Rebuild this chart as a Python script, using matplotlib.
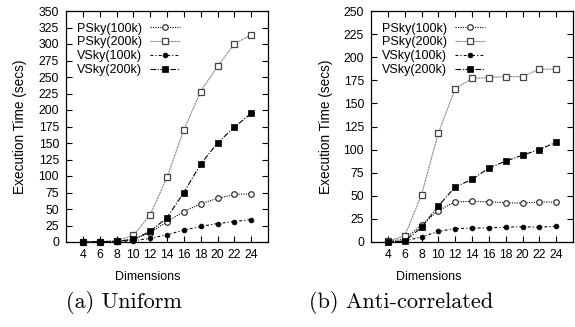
import matplotlib
matplotlib.use("Agg")
import matplotlib.pyplot as plt

dims = [4, 6, 8, 10, 12, 14, 16, 18, 20, 22, 24]
series_names = ["PSky(100k)", "PSky(200k)", "VSky(100k)", "VSky(200k)"]

# (a) Uniform
uni_psky100 = [0.3, 0.5, 1, 4, 14, 31, 46, 58, 66, 72, 73]
uni_psky200 = [0.3, 0.5, 2, 10, 41, 98, 170, 228, 266, 300, 314]
uni_vsky100 = [0.2, 0.3, 0.5, 2, 5.5, 11, 18, 23.5, 28, 31, 34]
uni_vsky200 = [0.3, 0.5, 1, 4, 16, 37, 75, 118, 150, 174, 195]

# (b) Anti-correlated
anti_psky100 = [1, 3, 18.6, 34, 43.5, 44, 43.5, 42.5, 42, 43.5, 43]
anti_psky200 = [1, 6.5, 51, 118, 166, 177, 178, 179, 179, 187, 187]
anti_vsky100 = [0, 1, 5.5, 11.5, 14.5, 15, 15.4, 16, 16.5, 16, 17]
anti_vsky200 = [0, 1, 15.7, 39, 59.6, 67.7, 80, 87.5, 94, 100, 108]

x_ticks = [4, 6, 8, 10, 12, 14, 16, 18, 20, 22, 24]
captions = ["(a) Uniform", "(b) Anti-correlated"]

sans = ["Liberation Sans", "DejaVu Sans"]
plt.rcParams["font.family"] = sans

fig = plt.figure(figsize=(5.75, 3.27), dpi=100)
W, H = 575.0, 327.0

def make_ax(x0, x1, y0, y1):
    return fig.add_axes([x0 / W, 1 - y1 / H, (x1 - x0) / W, (y1 - y0) / H])

ax1 = make_ax(66, 268, 11, 242)
ax2 = make_ax(371, 573, 11, 242)

styles = [
    dict(color="black", lw=0.8, ls=(0, (1, 1.2)), marker="o", ms=4, mfc="white", mec="#333333", mew=0.9),
    dict(color="#888888", lw=0.8, ls=(0, (2, 0.6)), marker="s", ms=4, mfc="white", mec="#444444", mew=0.9),
    dict(color="black", lw=0.8, ls=(0, (2.5, 2, 1, 2)), marker="o", ms=3.5, mfc="black", mec="black", mew=0.5),
    dict(color="black", lw=0.8, ls=(0, (5, 1.5, 1, 1.5)), marker="s", ms=5, mfc="black", mec="black", mew=0.5),
]

def draw(ax, data, ymax, caption, cx, lx, ylab_x):
    for name, vals, st in zip(series_names, data, styles):
        ax.plot(dims, vals, label=name, clip_on=False, zorder=3, **st)
    ax.set_xlim(2, 26)
    ax.set_ylim(0, ymax)
    ax.set_xticks(x_ticks)
    ax.set_yticks(list(range(0, ymax + 1, 25)))
    ax.tick_params(direction="in", length=4, width=0.8, top=True, right=True,
                   labelsize=8.8, pad=5)
    for s in ax.spines.values():
        s.set_linewidth(0.9)
    ax.legend(loc="upper left", bbox_to_anchor=(0.055, 0.95), markerfirst=False,
              frameon=False, handlelength=2.4, labelspacing=0.15, fontsize=9.0,
              handletextpad=0.6, borderaxespad=0.0, borderpad=0.0)
    fig.text(lx / W, 1 - 277 / H, "Dimensions", ha="center", va="center", fontsize=9.0)
    fig.text(ylab_x / W, 1 - 126.5 / H, "Execution Time (secs)", ha="center", va="center",
             rotation=90, fontsize=9.8)
    fig.text(cx / W, 1 - 302 / H, caption, ha="center", va="center", fontsize=16,
             family=["cmr10", "DejaVu Serif"])

draw(ax1, [uni_psky100, uni_psky200, uni_vsky100, uni_vsky200], 350, captions[0], 124, 148, 20)
draw(ax2, [anti_psky100, anti_psky200, anti_vsky100, anti_vsky200], 250, captions[1], 401, 429, 326)

fig.savefig("out.png", dpi=100)
